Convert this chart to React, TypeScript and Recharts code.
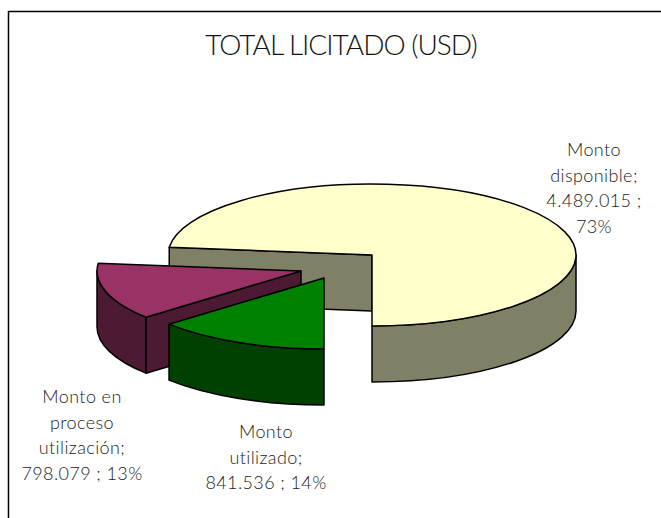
import { Pie, PieChart } from "recharts";

const names = ["Monto disponible", "Monto en proceso utilización", "Monto utilizado"];
const values = [4489015, 798079, 841536];
const labelLines = [
  ["Monto", "disponible;", "4.489.015 ;", "73%"],
  ["Monto en", "proceso", "utilización;", "798.079 ; 13%"],
  ["Monto", "utilizado;", "841.536 ; 14%"],
];

const topColors = ["#FFFFCC", "#993366", "#008000"];
const sideColors = ["#808066", "#4D1A33", "#004000"];

// how far each slice is pulled out of the pie, and where its label sits
const explode = [
  [0, 0],
  [-71, 16],
  [-48, 23],
];
const labelAt = [
  [594, 156],
  [82, 403],
  [266, 438],
];

const TILT = 0.348;
const DEPTH = 56;
const FONT = "Lato, 'Open Sans', sans-serif";
const RAD = Math.PI / 180;

const data = names.map((name, i) => ({ name, value: values[i] }));

function Slice3D(props: any) {
  const { cx, cy, outerRadius: rx, startAngle, endAngle, index } = props;
  const ry = rx * TILT;
  const ox = cx + explode[index][0];
  const oy = cy + explode[index][1];
  const px = (a: number) => ox + rx * Math.cos(a * RAD);
  const py = (a: number) => oy - ry * Math.sin(a * RAD);
  const arc = (a: number, b: number, dy: number, sweep: number) => {
    const large = Math.abs(b - a) > 180 ? 1 : 0;
    return `A ${rx} ${ry} 0 ${large} ${sweep} ${px(b)} ${py(b) + dy}`;
  };
  const line = { stroke: "#000", strokeWidth: 1.5, strokeLinejoin: "round" as const };

  const walls: React.ReactNode[] = [];
  // the front half of the rim is what shows, so clip the slice to it
  [
    [-180, 0],
    [180, 360],
  ].forEach(([lo, hi]) => {
    const a = Math.max(startAngle, lo);
    const b = Math.min(endAngle, hi);
    if (b - a > 0.01) {
      walls.push(
        <path
          key={lo}
          d={`M ${px(a)} ${py(a)} ${arc(a, b, 0, 0)} L ${px(b)} ${py(b) + DEPTH} ${arc(b, a, DEPTH, 1)} Z`}
          fill={sideColors[index]}
          {...line}
        />
      );
    }
  });

  const cut = (a: number, key: string) => (
    <path
      key={key}
      d={`M ${ox} ${oy} L ${px(a)} ${py(a)} L ${px(a)} ${py(a) + DEPTH} L ${ox} ${oy + DEPTH} Z`}
      fill={sideColors[index]}
      {...line}
    />
  );
  if (Math.sin((startAngle - 90) * RAD) < -0.001) walls.push(cut(startAngle, "s"));
  if (Math.sin((endAngle + 90) * RAD) < -0.001) walls.push(cut(endAngle, "e"));

  return (
    <g>
      {walls}
      <path
        d={`M ${ox} ${oy} L ${px(startAngle)} ${py(startAngle)} ${arc(startAngle, endAngle, 0, 0)} Z`}
        fill={topColors[index]}
        {...line}
      />
    </g>
  );
}

function SliceLabel({ index }: any) {
  const [x, y] = labelAt[index];
  return (
    <text x={x} y={y} textAnchor="middle" fontFamily={FONT} fontWeight={300} fontSize={18} letterSpacing={0.4} fill="#222">
      {labelLines[index].map((t, i) => (
        <tspan key={i} x={x} y={y + i * 25.6}>
          {t}
        </tspan>
      ))}
    </text>
  );
}

export default function App() {
  return (
    <div style={{ position: "absolute", left: 0, top: 0, width: 661, height: 518 }}>
      <PieChart width={661} height={518} margin={{ top: 0, right: 0, bottom: 0, left: 0 }}>
        <path d="M 8.5 518 L 8.5 11.5 L 661 11.5" fill="none" stroke="#000" strokeWidth={1.5} />
        <text x={341} y={55} textAnchor="middle" fontFamily={FONT} fontWeight={300} fontSize={28} letterSpacing={-1} fill="#111">
          TOTAL LICITADO (USD)
        </text>
        <Pie
          data={data}
          dataKey="value"
          nameKey="name"
          cx={372}
          cy={255}
          innerRadius={0}
          outerRadius={204}
          startAngle={-90}
          endAngle={270}
          paddingAngle={0}
          stroke="none"
          shape={Slice3D}
          label={SliceLabel}
          labelLine={false}
          isAnimationActive={false}
        />
      </PieChart>
    </div>
  );
}
